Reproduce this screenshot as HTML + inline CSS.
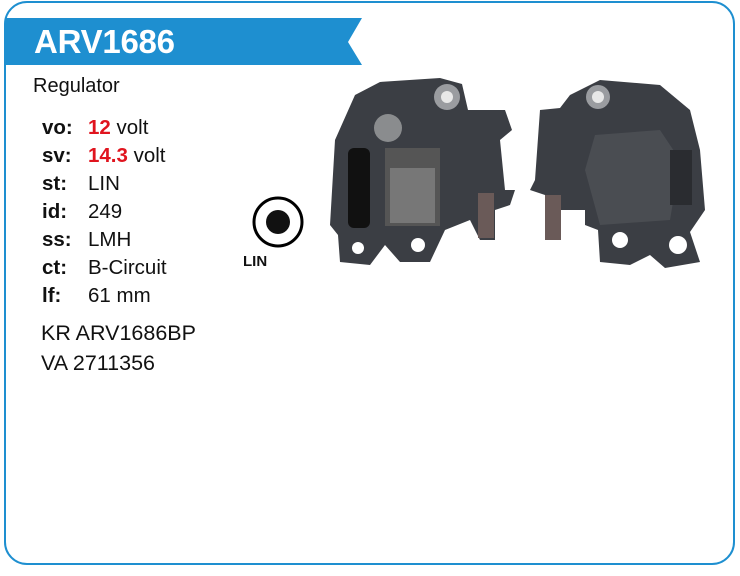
<!DOCTYPE html>
<html><head><style>
body{margin:0;width:740px;height:576px;background:#fff;position:relative;font-family:"Liberation Sans",sans-serif;overflow:hidden}
.t{position:absolute;font-size:20.5px;color:#111;white-space:nowrap}
.b{font-weight:bold}
.r{color:#e0141e;font-weight:bold}
</style></head><body>
<svg width="740" height="576" style="position:absolute;left:0;top:0">
<rect x="5" y="2" width="729" height="562" rx="22" fill="none" stroke="#1e8fd0" stroke-width="2"/>
<polygon points="5,18 362,18 348,42 362,65 5,65" fill="#1e8fd0"/>
<text x="34" y="53" font-family="Liberation Sans" font-weight="bold" font-size="33" fill="#fff" textLength="141">ARV1686</text>
<circle cx="278" cy="222" r="24" fill="none" stroke="#000" stroke-width="3"/>
<circle cx="278" cy="222" r="12" fill="#111"/>
<text x="243" y="266" font-family="Liberation Sans" font-weight="bold" font-size="15" fill="#111">LIN</text>
<g fill="#3b3e44">
<polygon points="335,140 355,95 380,82 440,78 462,84 468,110 505,110 512,130 500,140 505,190 515,190 510,205 495,210 495,240 480,240 470,220 445,230 430,262 400,262 385,245 370,265 340,262 338,235 330,225"/>
</g>
<circle cx="447" cy="97" r="13" fill="#9a9ca0"/><circle cx="447" cy="97" r="6" fill="#e8e8e8"/>
<circle cx="388" cy="128" r="14" fill="#8a8c8e"/>
<rect x="348" y="148" width="22" height="80" rx="6" fill="#111"/>
<rect x="385" y="148" width="55" height="78" fill="#555"/>
<rect x="390" y="168" width="45" height="55" fill="#777"/>
<rect x="478" y="193" width="16" height="45" fill="#6a5a58"/>
<circle cx="358" cy="248" r="6" fill="#fff"/><circle cx="418" cy="245" r="7" fill="#fff"/>
<g fill="#3b3e44">
<polygon points="580,90 600,80 660,85 690,110 700,150 705,210 690,232 700,262 665,268 650,255 630,265 600,262 598,230 585,225 585,210 560,210 560,240 545,240 545,195 530,190 535,180 540,110 560,108 570,95"/>
</g>
<circle cx="598" cy="97" r="12" fill="#9a9ca0"/><circle cx="598" cy="97" r="6" fill="#e8e8e8"/>
<polygon points="595,135 660,130 680,160 670,220 600,225 585,170" fill="#4a4d52"/>
<rect x="670" y="150" width="22" height="55" fill="#2a2c30"/>
<rect x="545" y="195" width="16" height="45" fill="#6a5a58"/>
<circle cx="620" cy="240" r="8" fill="#fff"/><circle cx="678" cy="245" r="9" fill="#fff"/>
</svg>
<div class="t" style="left:33px;top:75px;font-size:20px">Regulator</div>
<div class="t b" style="left:42px;top:116px">vo:</div><div class="t" style="left:88px;top:116px"><span class="r">12</span> volt</div>
<div class="t b" style="left:42px;top:144px">sv:</div><div class="t" style="left:88px;top:144px"><span class="r">14.3</span> volt</div>
<div class="t b" style="left:42px;top:172px">st:</div><div class="t" style="left:88px;top:172px">LIN</div>
<div class="t b" style="left:42px;top:200px">id:</div><div class="t" style="left:88px;top:200px">249</div>
<div class="t b" style="left:42px;top:228px">ss:</div><div class="t" style="left:88px;top:228px">LMH</div>
<div class="t b" style="left:42px;top:256px">ct:</div><div class="t" style="left:88px;top:256px">B-Circuit</div>
<div class="t b" style="left:42px;top:284px">lf:</div><div class="t" style="left:88px;top:284px">61 mm</div>
<div class="t" style="left:41px;top:321px;font-size:21.5px">KR ARV1686BP</div>
<div class="t" style="left:41px;top:351px;font-size:21.5px">VA 2711356</div>
</body></html>
